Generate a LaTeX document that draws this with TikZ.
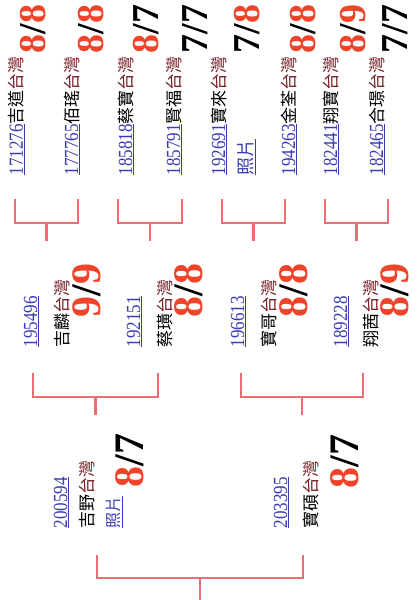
\documentclass[tikz,border=0pt]{standalone}
\usepackage{fontspec}
\setmainfont{Liberation Serif}
\newfontfamily\cjkf{Noto Sans CJK TC}
\newfontfamily\idfont[FakeStretch=0.85]{Liberation Serif}
\definecolor{idblue}{RGB}{58,58,178}
\definecolor{twred}{RGB}{118,30,36}
\definecolor{scred}{RGB}{240,68,42}
\definecolor{linkred}{RGB}{234,108,116}
\newcommand\idn[1]{{\idfont\fontsize{20}{20}\selectfont\textcolor{idblue}{\underline{#1}}}}
\newcommand\nm[1]{{\cjkf\fontsize{17}{17}\selectfont #1\textcolor{twred}{台灣}}}
\newcommand\photoA{{\cjkf\fontsize{18}{18}\selectfont\textcolor{idblue}{\underline{照片}}}}
\newcommand\photoB{{\cjkf\fontsize{16}{16}\selectfont\textcolor{idblue}{\underline{照片}}}}
\newcommand\dg[1]{\ifnum#1>7 \textcolor{scred}{#1}\else #1\fi}
\newcommand\gscore[2]{\dg{#1}/\dg{#2}}
\newcommand\famlink[6]{%
  \coordinate (#1L) at (#2,-#4);
  \coordinate (#1R) at (#3,-#4);
  \coordinate (#1M) at ({(#2+#3)/2},-#5);
  \coordinate (#1S) at ({(#2+#3)/2},-#6);
  \draw[link] (#1L) |- (#1M) -| (#1R);
  \draw[link] (#1M) -- (#1S);}
\begin{document}
\begin{tikzpicture}[x=1pt,y=1pt,
  txt/.style={rotate=90, anchor=base west, inner sep=0pt, outer sep=0pt},
  scoreS/.style={txt, font=\fontsize{38}{38}\selectfont\bfseries},
  scoreL/.style={txt, font=\fontsize{42}{42}\selectfont\bfseries},
  link/.style={draw=linkred, line width=2.2pt}]
\useasboundingbox[fill=white] (0,0) rectangle (417,-600);

% ---------- generation 3 (top) ----------
\node[txt] (p1) at (23,-175) {\idn{171276}\nm{吉道}};
\node[scoreS] (s1) at (45,-53) {\gscore{8}{8}};
\node[txt] (p2) at (78,-175) {\idn{177765}\nm{佰瑤}};
\node[scoreS] (s2) at (103,-53) {\gscore{8}{8}};
\node[txt] (p3) at (132,-175) {\idn{185818}\nm{蔡寶}};
\node[scoreS] (s3) at (158,-53) {\gscore{8}{7}};
\node[txt] (p4) at (180,-175) {\idn{185791}\nm{賢福}};
\node[scoreS] (s4) at (207,-53) {\gscore{7}{7}};
\node[txt] (p5) at (225,-175) {\idn{192691}\nm{寶來}};
\node[txt] (f5) at (252,-175) {\photoA};
\node[scoreS] (s5) at (259,-53) {\gscore{7}{8}};
\node[txt] (p6) at (295,-175) {\idn{194263}\nm{金荃}};
\node[scoreS] (s6) at (315,-53) {\gscore{8}{8}};
\node[txt] (p7) at (337,-175) {\idn{182441}\nm{翔寶}};
\node[scoreS] (s7) at (365,-53) {\gscore{8}{9}};
\node[txt] (p8) at (383,-175) {\idn{182465}\nm{合璟}};
\node[scoreS] (s8) at (407,-53) {\gscore{7}{7}};

\famlink{k1}{15}{78}{199}{223}{241}
\famlink{k2}{118}{182}{199}{223}{241}
\famlink{k3}{222}{285}{199}{223}{241}
\famlink{k4}{325}{388}{199}{223}{241}

% ---------- generation 2 ----------
\node[txt] (qa) at (37,-347) {\idn{195496}};
\node[txt] (na) at (68,-347) {\nm{吉麟}};
\node[scoreL] (ta) at (100,-317) {\gscore{9}{9}};
\node[txt] (qb) at (140,-347) {\idn{192151}};
\node[txt] (nb) at (171,-347) {\nm{蔡璜}};
\node[scoreL] (tb) at (202,-317) {\gscore{8}{8}};
\node[txt] (qc) at (244,-347) {\idn{196613}};
\node[txt] (nc) at (275,-347) {\nm{寶哥}};
\node[scoreL] (tc) at (307,-317) {\gscore{8}{8}};
\node[txt] (qd) at (347,-347) {\idn{189228}};
\node[txt] (nd) at (377,-347) {\nm{翔茜}};
\node[scoreL] (td) at (408,-317) {\gscore{8}{9}};

\famlink{m1}{33}{158}{373}{397}{415}
\famlink{m2}{241}{363}{373}{397}{415}

% ---------- generation 1 ----------
\node[txt] (ri) at (67,-528) {\idn{200594}};
\node[txt] (ni) at (93,-528) {\nm{吉野}};
\node[txt] (fi) at (119,-528) {\photoB};
\node[scoreL] (ui) at (143,-487) {\gscore{8}{7}};
\node[txt] (rii) at (287,-528) {\idn{203395}};
\node[txt] (nii) at (317,-528) {\nm{寶碩}};
\node[scoreL] (uii) at (358,-488) {\gscore{8}{7}};

\famlink{r0}{97}{303}{555}{578}{600}
\end{tikzpicture}
\end{document}
